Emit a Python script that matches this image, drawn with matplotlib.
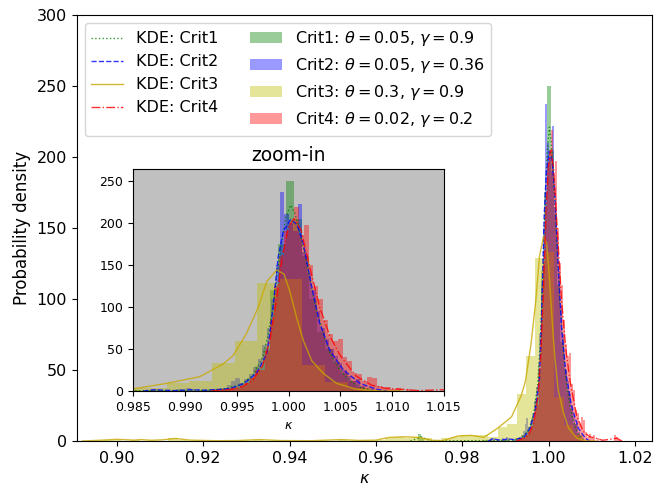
import numpy as np
import matplotlib.pyplot as plt

# Histogram bins (lo, hi, number of bins) and bar heights for each criterion
crit1_range = (0.96976, 1.00726)
crit1_hist = [5, 2, 0, 0, 0, 0, 0, 0, 0, 0, 0, 0, 0, 0, 0, 0, 0, 0, 0, 0,
              1, 0, 1, 0, 1, 0, 1, 1, 0, 1, 2, 2, 4, 6, 10, 16, 30, 50, 120, 175,
              250, 205, 160, 110, 70, 50, 35, 22, 12, 5]

crit2_range = (0.98671, 1.00821)
crit2_hist = [2, 2, 0, 0, 0, 0, 2, 0, 3, 2, 0, 1, 1, 1, 2, 2, 4, 7, 12, 16,
              10, 14, 20, 28, 38, 55, 75, 110, 150, 237, 210, 200, 190, 222, 165, 140, 120, 95, 75, 62,
              50, 42, 33, 25, 18, 12, 14, 6, 4, 2]

crit3_range = (0.8967, 1.00788)
crit3_hist = [1, 1, 0, 1, 0, 0, 0, 2, 1, 0, 0, 0, 0, 0, 0, 0, 1, 0, 0, 0,
              0, 0, 0, 0, 0, 1, 0, 0, 0, 1, 2, 3, 2, 3, 2, 0, 2, 3, 4, 4,
              4, 3, 10, 12, 33, 60, 129, 133, 31, 11, 4]

crit4_range = (0.9930, 1.0165)
crit4_hist = [1, 2, 1, 3, 4, 6, 9, 15, 25, 25, 48, 85, 125, 160, 190, 200, 219, 185, 197, 150,
              125, 110, 85, 68, 60, 62, 40, 36, 22, 20, 12, 17, 15, 6, 3, 5, 2, 4, 0, 2,
              0, 0, 0, 0, 0, 0, 0, 4, 3, 1]

# KDE curves
kde1_x = [0.9680, 0.9694, 0.9705, 0.9715, 0.9730, 0.9850, 0.9900, 0.9925, 0.9940, 0.9955,
          0.9965, 0.9975, 0.9980, 0.9985, 0.9989, 0.9993, 0.9997, 1.0002, 1.0006, 1.0010,
          1.0014, 1.0018, 1.0025, 1.0033, 1.0040, 1.0048, 1.0055, 1.0063, 1.0070, 1.0080]
kde1_y = [0, 1.5, 3, 1.5, 0, 0.3, 0.5, 1, 3, 8,
          18, 40, 65, 100, 140, 172, 205, 221, 212, 195,
          172, 150, 105, 70, 45, 28, 17, 9, 4, 1]

kde2_x = [0.9860, 0.9870, 0.9890, 0.9905, 0.9920, 0.9935, 0.9944, 0.9957, 0.9969, 0.9979,
          0.9982, 0.9985, 0.9990, 0.9995, 1.0002, 1.0008, 1.0014, 1.0022, 1.0030, 1.0040,
          1.0053, 1.0069, 1.0085, 1.0095]
kde2_y = [0, 1.5, 0.5, 1.5, 1, 2, 3, 9, 21, 44,
          68, 99, 159, 190, 204, 198, 177, 126, 81, 48,
          25, 9, 2, 0]

kde3_x = [0.8920, 0.8960, 0.9000, 0.9040, 0.9055, 0.9080, 0.9105, 0.9135, 0.9170, 0.9230,
          0.9280, 0.9330, 0.9380, 0.9450, 0.9520, 0.9560, 0.9600, 0.9630, 0.9665, 0.9700,
          0.9730, 0.9755, 0.9790, 0.9820, 0.9850, 0.98821, 0.99143, 0.99368, 0.99465, 0.99593,
          0.99706, 0.99790, 0.99886, 0.99957, 1.00014, 1.00079, 1.00143, 1.00224, 1.00336, 1.00465,
          1.00658, 1.00883, 1.0110]
kde3_y = [0, 0.5, 1.2, 0.6, 1, 0.5, 0.8, 1.8, 0.6, 0.2,
          0.3, 1, 0.3, 0.2, 1, 0.4, 0.6, 2.5, 3, 2.5,
          0.5, 0.3, 3.5, 4, 2.5, 9, 17, 32, 42, 68,
          99, 130, 144, 139, 118, 87, 60, 36, 21, 9,
          2, 0, 0]

kde4_x = [0.9925, 0.9945, 0.9955, 0.9965, 0.9975, 0.9982, 0.9988, 0.9994, 1.0000, 1.0005,
          1.0012, 1.0020, 1.0030, 1.0040, 1.0050, 1.0065, 1.0080, 1.0095, 1.0110, 1.0125,
          1.0150, 1.0158, 1.0170]
kde4_y = [0, 2, 5, 12, 30, 60, 105, 160, 195, 205,
          192, 150, 100, 65, 42, 18, 7, 3, 2, 0.5,
          1.5, 2, 0]

hist_labels = [r'Crit1: $\theta=0.05$, $\gamma=0.9$',
               r'Crit2: $\theta=0.05$, $\gamma=0.36$',
               r'Crit3: $\theta=0.3$, $\gamma=0.9$',
               r'Crit4: $\theta=0.02$, $\gamma=0.2$']
kde_labels = ['KDE: Crit1', 'KDE: Crit2', 'KDE: Crit3', 'KDE: Crit4']

ranges = [crit1_range, crit2_range, crit3_range, crit4_range]
hists = [crit1_hist, crit2_hist, crit3_hist, crit4_hist]
kdes = [(kde1_x, kde1_y), (kde2_x, kde2_y), (kde3_x, kde3_y), (kde4_x, kde4_y)]
hist_colors = ['g', 'b', 'y', 'r']
line_colors = ['g', 'b', '#c9a800', 'r']
styles = [':', '--', '-', '-.']

plt.rcParams['font.size'] = 11.5

fig = plt.figure(figsize=(6.68, 4.9), dpi=100)
ax = fig.add_axes([0.1148, 0.1, 0.8608, 0.8694])


def draw(a, with_labels):
    kde_handles, hist_handles = [], []
    for rng, h, (kx, ky), hc, lc, ls, hl, kl in zip(ranges, hists, kdes, hist_colors,
                                                    line_colors, styles, hist_labels, kde_labels):
        edges = np.linspace(rng[0], rng[1], len(h) + 1)
        p = a.stairs(h, edges, fill=True, color=hc, alpha=0.4, linewidth=0,
                     label=hl if with_labels else None)
        ln, = a.plot(kx, ky, color=lc, linestyle=ls, linewidth=1, alpha=0.8,
                     label=kl if with_labels else None)
        hist_handles.append(p)
        kde_handles.append(ln)
    return kde_handles, hist_handles


kh, hh = draw(ax, True)
ax.set_xlim(0.8907, 1.0239)
ax.set_ylim(0, 300)
ax.set_xticks([0.90, 0.92, 0.94, 0.96, 0.98, 1.00, 1.02])
ax.set_xlabel(r'$\kappa$')
ax.set_ylabel('Probability density', fontsize=12)
ax.legend(kh + hh, kde_labels + hist_labels, loc='upper left', ncol=2, fontsize=11.5)

# zoom-in inset
ins = fig.add_axes([0.1991, 0.2020, 0.4656, 0.4531])
ins.set_facecolor('silver')
draw(ins, False)
ins.set_xlim(0.985, 1.015)
ins.set_ylim(0, 264)
ins.set_xticks([0.985, 0.990, 0.995, 1.000, 1.005, 1.010, 1.015])
ins.set_yticks([0, 50, 100, 150, 200, 250])
ins.tick_params(labelsize=9)
ins.set_xlabel(r'$\kappa$', fontsize=9)
ins.set_title('zoom-in', fontsize=13.5)

fig.savefig('out.png', dpi=100)
